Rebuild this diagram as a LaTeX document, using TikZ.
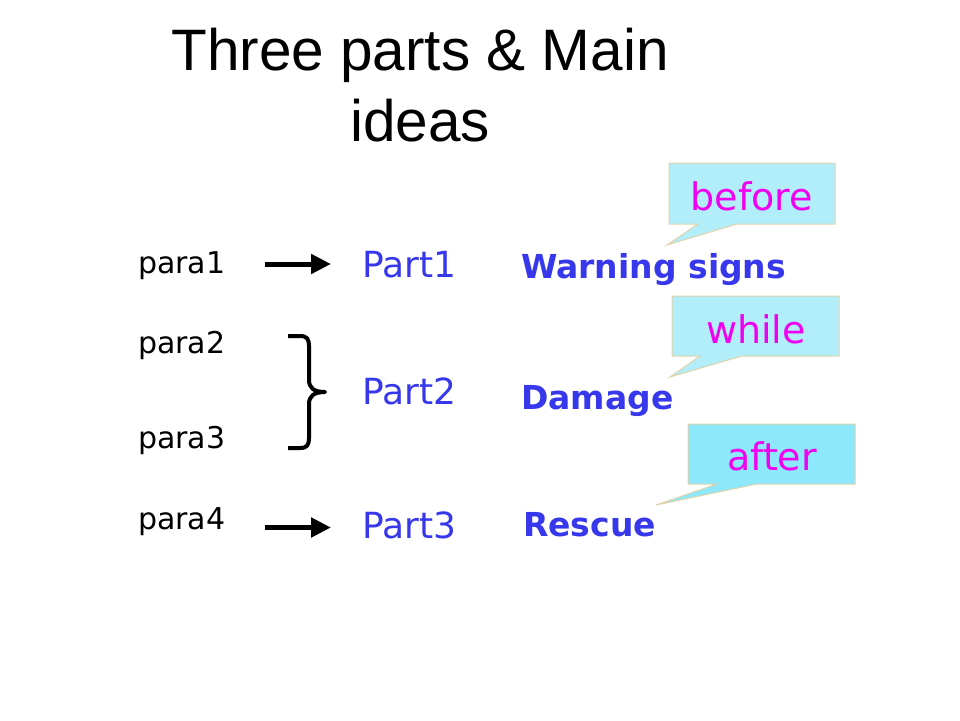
\documentclass[tikz,border=0pt]{standalone}
\usepackage{fontspec}
\setmainfont{DejaVu Sans}
\newfontfamily\titlefont{Liberation Sans}
\usetikzlibrary{arrows.meta}
\definecolor{txtblue}{RGB}{55,55,235}
\definecolor{calltxt}{RGB}{240,0,240}
\definecolor{callfillA}{RGB}{178,238,250}
\definecolor{callfillB}{RGB}{140,232,250}
\definecolor{callborder}{RGB}{225,210,170}
\tikzset{
  paralabel/.style={anchor=base west, inner sep=0pt, text height=21pt, text depth=6pt,
    font=\fontsize{30}{35}\selectfont},
  partlabel/.style={anchor=base west, inner sep=0pt, text=txtblue,
    font=\fontsize{36}{42}\selectfont},
  ideabox/.style={anchor=base west, inner sep=0pt, text=txtblue,
    font=\fontsize{33}{40}\selectfont\bfseries},
  calltext/.style={anchor=base, inner sep=0pt, text=calltxt,
    font=\fontsize{38}{44}\selectfont},
  callshape/.style={draw=callborder, line width=1pt, line join=miter},
  bigarrow/.style={line width=5pt, -{Triangle[length=20pt,width=19pt]}},
  bracestyle/.style={line width=4pt, line join=round, line cap=butt},
}
\begin{document}
\begin{tikzpicture}[x=1pt,y=-1pt]
\useasboundingbox (0,0) rectangle (960,720);

% title
\node[anchor=base, inner sep=0pt, align=center,
  font=\titlefont\fontsize{58.5}{71}\selectfont] (title) at (420,141)
  {Three parts \& Main\\ideas};

% paragraph labels
\node[paralabel] (p1) at (138,273) {para1};
\node[paralabel] (p2) at (138,353) {para2};
\node[paralabel] (p3) at (138,448) {para3};
\node[paralabel] (p4) at (138,529) {para4};

% parts
\node[partlabel] (P1) at (362,277) {Part1};
\node[partlabel] (P2) at (362,404) {Part2};
\node[partlabel] (P3) at (362,538) {Part3};

% main ideas
\node[ideabox] (W) at (521,278) {Warning signs};
\node[ideabox] (D) at (521,409) {Damage};
\node[ideabox] (R) at (523,536) {Rescue};

% arrows
\draw[bigarrow, shorten <=39pt, shorten >=31pt] ([yshift=1.5pt]p1.east) -- ([yshift=1.5pt]p1.east -| P1.west);
\draw[bigarrow, shorten <=39pt, shorten >=31pt] ([yshift=-6pt]p4.east) -- ([yshift=-6pt]p4.east -| P3.west);

% brace
\coordinate (btip) at (325,392);
\draw[bracestyle] (288,336) -- (300,336) .. controls (307,336) and (309,339) .. (309,346)
  -- (309,380) .. controls (309,388) and (314,392) .. (btip)
  .. controls (314,392) and (309,396) .. (309,404)
  -- (309,438) .. controls (309,445) and (307,448) .. (300,448) -- (288,448);

% callouts
\filldraw[callshape, fill=callfillA] (669,163) -- (835,163) -- (835,224) -- (737,224)
  -- (667,245) -- (698,224) -- (669,224) -- cycle;
\node[calltext] (cb) at (752,210) {before};

\filldraw[callshape, fill=callfillA] (672,296) -- (839,296) -- (839,356) -- (742,356)
  -- (670,377) -- (700,356) -- (672,356) -- cycle;
\node[calltext] (cw) at (756,343) {while};

\filldraw[callshape, fill=callfillB] (688,424) -- (855,424) -- (855,484) -- (757,484)
  -- (656,505) -- (717,484) -- (688,484) -- cycle;
\node[calltext] (ca) at (772,470) {after};
\end{tikzpicture}
\end{document}
